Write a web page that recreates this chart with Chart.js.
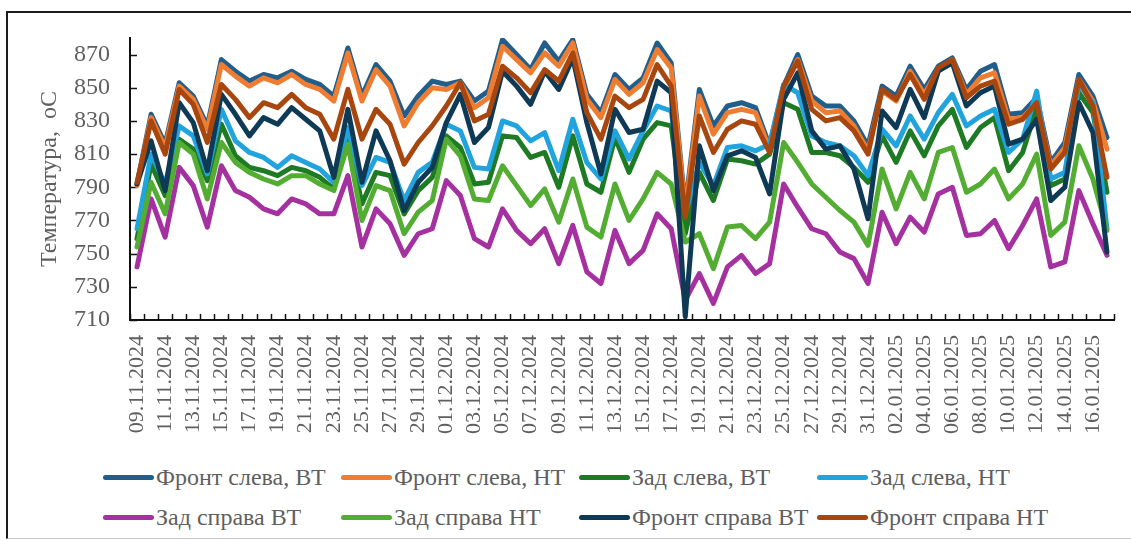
<!DOCTYPE html>
<html>
<head>
<meta charset="utf-8">
<script src="https://cdn.jsdelivr.net/npm/chart.js@4.4.0/dist/chart.umd.min.js"></script>
<style>
  html, body { margin: 0; padding: 0; background: #fff; }
  #wrap { position: relative; width: 1131px; height: 541px; overflow: hidden; background: #fff; }
  #frame { position: absolute; left: 6px; top: 11px; width: 1140px; height: 528px;
           border-left: 2px solid #1c1c1c; border-top: 2px solid #1c1c1c; border-bottom: 1px solid #c8c8c8;
           box-sizing: border-box; }
  #chart { position: absolute; left: 0; top: 0; }
  #legend { position: absolute; left: 0; top: 460px; width: 1131px; height: 80px;
            font-family: "Liberation Serif", "Times New Roman", serif; font-size: 24px; color: #5f5f5f; }
  .item { position: absolute; height: 28px; display: flex; align-items: center; white-space: nowrap; }
  .swatch { width: 51px; height: 5px; border-radius: 3px; margin-right: 2px; }
</style>
</head>
<body>
<div id="wrap">
  <div id="frame"></div>
  <canvas id="chart" width="1131" height="450"></canvas>
  <div id="legend"></div>
</div>
<script>
// Daily dates, 09.11.2024 – 17.01.2025
const dates = [
  '09.11.2024','10.11.2024','11.11.2024','12.11.2024','13.11.2024','14.11.2024','15.11.2024','16.11.2024','17.11.2024','18.11.2024',
  '19.11.2024','20.11.2024','21.11.2024','22.11.2024','23.11.2024','24.11.2024','25.11.2024','26.11.2024','27.11.2024','28.11.2024',
  '29.11.2024','30.11.2024','01.12.2024','02.12.2024','03.12.2024','04.12.2024','05.12.2024','06.12.2024','07.12.2024','08.12.2024',
  '09.12.2024','10.12.2024','11.12.2024','12.12.2024','13.12.2024','14.12.2024','15.12.2024','16.12.2024','17.12.2024','18.12.2024',
  '19.12.2024','20.12.2024','21.12.2024','22.12.2024','23.12.2024','24.12.2024','25.12.2024','26.12.2024','27.12.2024','28.12.2024',
  '29.12.2024','30.12.2024','31.12.2024','01.01.2025','02.01.2025','03.01.2025','04.01.2025','05.01.2025','06.01.2025','07.01.2025',
  '08.01.2025','09.01.2025','10.01.2025','11.01.2025','12.01.2025','13.01.2025','14.01.2025','15.01.2025','16.01.2025','17.01.2025'
];

// Temperatures, °C
const frontLeftVT = [792,834,816,853,845,827,867,860,854,858, 856,860,855,852,845,874,845,864,854,833,
  845,854,852,854,842,848,879,870,861,877, 866,879,846,835,858,849,856,877,865,778,
  849,827,839,841,838,815,851,870,845,839, 839,830,815,851,845,863,849,863,868,849,
  860,864,834,835,844,805,817,858,845,820];
const frontLeftNT = [791,832,814,851,843,825,864,857,851,856, 853,858,852,849,842,871,842,861,851,827,
  841,850,849,853,838,844,875,867,859,871, 863,877,843,832,855,846,853,873,862,776,
  845,822,835,837,835,813,849,867,842,835, 836,827,812,848,842,860,846,861,867,846,
  856,859,831,832,841,803,814,855,842,813];
const rearLeftVT = [759,804,785,819,813,794,828,809,802,800, 797,802,800,796,789,821,780,799,797,774,
  788,796,821,814,792,793,821,820,808,811, 790,821,792,787,820,799,819,829,827,762,
  799,782,807,806,804,810,841,837,811,811, 809,802,793,821,805,824,809,827,837,814,
  826,832,800,811,838,791,795,847,835,787];
const rearLeftNT = [765,810,792,827,821,798,837,818,811,808, 802,809,805,801,793,826,791,808,805,782,
  799,805,828,824,802,801,830,827,818,823, 800,831,805,795,824,807,824,839,836,774,
  805,791,814,815,812,816,852,847,821,817, 815,809,797,825,815,833,819,835,846,827,
  833,837,811,819,848,795,799,852,841,765];
const rearRightVT = [742,783,760,802,791,766,803,788,784,777, 774,783,780,774,774,797,754,777,768,749,
  762,765,794,785,759,754,777,764,756,765, 744,767,739,732,764,744,752,774,765,722,
  738,720,742,749,738,744,792,778,765,762, 751,747,732,775,756,772,763,786,790,761,
  762,770,753,767,783,742,745,788,768,749];
const rearRightNT = [754,793,774,817,810,783,817,805,799,795, 792,797,797,792,788,816,770,791,788,762,
  775,782,819,809,783,782,803,791,779,789, 769,795,766,760,792,770,783,799,792,757,
  762,741,766,767,759,769,817,805,792,784, 776,769,755,801,777,799,783,811,814,787,
  792,801,783,792,810,761,769,815,795,764];
const frontRightVT = [792,818,788,841,829,800,846,834,821,832, 828,838,831,824,796,837,793,824,806,776,
  793,802,829,846,817,826,860,851,840,860, 849,868,829,798,837,823,825,854,847,712,
  815,788,809,812,808,786,843,859,824,813, 815,801,771,836,826,849,832,860,865,839,
  847,851,816,819,831,782,790,841,823,751];
const frontRightNT = [793,830,810,849,840,817,852,843,832,841, 838,846,838,834,819,849,819,837,828,804,
  817,827,839,853,830,834,863,856,847,861, 854,871,835,819,845,838,843,864,851,772,
  833,811,825,830,828,811,851,866,837,830, 832,824,810,849,843,858,843,862,867,844,
  851,854,828,831,841,801,811,855,839,796];

const seriesNames = ['Фронт слева, ВТ', 'Фронт слева, НТ', 'Зад слева, ВТ', 'Зад слева, НТ',
                     'Зад справа ВТ', 'Зад справа НТ', 'Фронт справа ВТ', 'Фронт справа НТ'];
const seriesValues = [frontLeftVT, frontLeftNT, rearLeftVT, rearLeftNT,
                      rearRightVT, rearRightNT, frontRightVT, frontRightNT];
const seriesColors = ['#215e8c', '#ee7c31', '#1f7a24', '#21a3de',
                      '#a5309f', '#53ad32', '#0f3a55', '#a8460f'];

const yTickValues = [710, 730, 750, 770, 790, 810, 830, 850, 870];
const yAxisTitle = 'Температура,  оС';

const serif = '"Liberation Serif", "Times New Roman", serif';
const textGray = '#5f5f5f';

// Small tick marks drawn on the inner side of both axes
const insideTicks = {
  id: 'insideTicks',
  beforeDatasetsDraw(chart) {
    const { ctx, chartArea, scales: { x, y } } = chart;
    ctx.save();
    ctx.strokeStyle = '#111';
    ctx.lineWidth = 1.5;
    ctx.beginPath();
    for (let k = 0; k <= dates.length; k++) {
      const px = Math.round(x.getPixelForValue(k - 0.5)) + 0.5;
      ctx.moveTo(px, chartArea.bottom);
      ctx.lineTo(px, chartArea.bottom - 6);
    }
    for (const v of yTickValues) {
      const py = Math.round(y.getPixelForValue(v)) + 0.5;
      ctx.moveTo(chartArea.left, py);
      ctx.lineTo(chartArea.left + 7, py);
    }
    ctx.stroke();
    ctx.restore();
  }
};

new Chart(document.getElementById('chart'), {
  type: 'line',
  data: {
    labels: dates,
    datasets: seriesNames.map((name, i) => ({
      label: name,
      data: seriesValues[i],
      borderColor: seriesColors[i],
      backgroundColor: seriesColors[i],
      borderWidth: 5,
      pointRadius: 0,
      tension: 0,
      borderJoinStyle: 'round',
      borderCapStyle: 'round',
      order: seriesNames.length - 1 - i
    }))
  },
  options: {
    responsive: false,
    animation: false,
    layout: { padding: { left: 35, top: 38, right: 17, bottom: 0 } },
    plugins: { legend: { display: false }, tooltip: { enabled: false } },
    scales: {
      x: {
        type: 'category',
        offset: true,
        grid: { display: true, drawOnChartArea: false, drawTicks: false, offset: true },
        border: { display: true, color: '#111', width: 2 },
        ticks: {
          autoSkip: false,
          minRotation: 90,
          maxRotation: 90,
          padding: 15,
          color: textGray,
          font: { family: serif, size: 22 },
          callback: function (val, index) { return index % 2 === 0 ? this.getLabelForValue(val) : ''; }
        },
        afterFit: (scale) => {
          scale.height = 130;
          scale.paddingLeft = 0;
          scale.paddingRight = 0;
        }
      },
      y: {
        min: 710,
        max: 880,
        grid: { display: true, drawOnChartArea: false, drawTicks: false },
        border: { display: true, color: '#111', width: 2 },
        ticks: { padding: 20, color: textGray, font: { family: serif, size: 24 } },
        afterBuildTicks: (scale) => { scale.ticks = yTickValues.map(v => ({ value: v })); },
        title: { display: true, text: yAxisTitle, color: textGray, padding: 0,
                 font: { family: serif, size: 24 } },
        afterFit: (scale) => {
          scale.width = 95;
          scale.paddingTop = 0;
          scale.paddingBottom = 0;
        }
      }
    }
  },
  plugins: [insideTicks]
});

// Legend: two rows of four entries laid out in columns
const legendCols = [103, 341, 579, 817];
const legendRows = [3, 43];
const legend = document.getElementById('legend');
seriesNames.forEach((name, i) => {
  const item = document.createElement('div');
  item.className = 'item';
  item.style.left = legendCols[i % 4] + 'px';
  item.style.top = legendRows[Math.floor(i / 4)] + 'px';
  const sw = document.createElement('span');
  sw.className = 'swatch';
  sw.style.background = seriesColors[i];
  const tx = document.createElement('span');
  tx.textContent = name;
  item.appendChild(sw);
  item.appendChild(tx);
  legend.appendChild(item);
});
</script>
</body>
</html>
